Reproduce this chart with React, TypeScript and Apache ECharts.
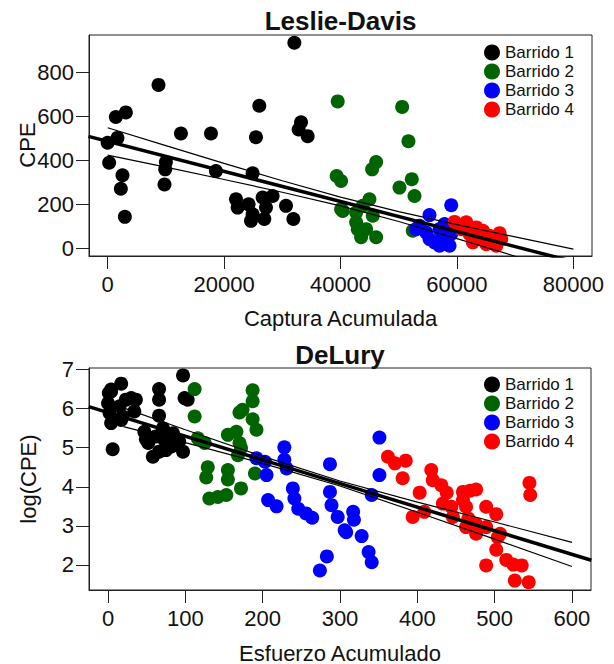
import React, { useEffect, useRef } from "react";
import * as echarts from "echarts";

// ---------- Leslie-Davis data: [Captura Acumulada, CPE] ----------
const ldBarrido1 = [
  [32070, 935], [8740, 743], [1410, 597], [3130, 618], [12590, 522], [17750, 522],
  [26050, 648], [25480, 505], [33220, 573], [32810, 540], [34360, 510], [0, 480],
  [1690, 502], [260, 389], [2550, 332], [2270, 271], [2960, 143], [10010, 392],
  [9890, 359], [9770, 290], [18600, 351], [24900, 341], [22050, 223], [22330, 185],
  [24210, 200], [24620, 125], [24900, 155], [26620, 231], [27200, 185], [26910, 133],
  [28340, 238], [30640, 193], [31900, 133],
];
const ldBarrido2 = [
  [39520, 668], [50590, 643], [51670, 487], [46120, 392], [45430, 359], [39340, 329],
  [40100, 306], [52240, 314], [50130, 276], [52710, 238], [44970, 223], [40380, 170],
  [42680, 163], [43820, 193], [45540, 148], [42960, 87], [43540, 50], [46120, 50],
  [42680, 118], [44400, 87], [52410, 80], [40100, 178],
];
const ldBarrido3 = [
  [59020, 196], [55290, 151], [53570, 102], [54720, 72], [55290, 42], [57010, 87],
  [57580, 50], [58730, 12], [57010, 12], [56150, 27], [59020, 65], [57870, 110], [53000, 87],
];
const ldBarrido4 = [
  [59590, 120], [61600, 118], [63320, 95], [64460, 80], [65610, 57], [67330, 69],
  [67620, 42], [66760, 12], [65040, 19], [63320, 42], [62160, 65], [60740, 87],
  [62730, 27], [63890, 57],
];
const ldFitX = [-3300, 83300];
const ldFitY = [509, -83];
const ldBandX = [0, 10000, 20000, 30000, 40000, 50000, 60000, 70000, 80000];
const ldUpper = [548, 467, 386, 307, 233, 167, 108, 52, -4];
const ldLower = [424, 369, 313, 255, 193, 122, 44, -36, -117];

// ---------- DeLury data: [Esfuerzo Acumulado, log(CPE)] ----------
const dlBarrido1 = [
  [0, 6.14], [1, 6.4], [4, 6.49], [17, 6.64], [4, 6.44], [2, 5.89], [4, 5.63], [6, 4.96],
  [15, 6.06], [17, 5.71], [23, 6.23], [30, 6.27], [36, 6.23], [34, 5.93], [19, 5.8],
  [66, 6.5], [66, 6.23], [66, 5.82], [47, 5.41], [49, 5.22], [52, 5.12], [62, 5.29],
  [58, 4.77], [66, 4.9], [73, 5.2], [75, 4.94], [84, 5.37], [82, 5.03], [92, 5.16],
  [97, 4.9], [97, 6.85], [99, 6.27], [103, 6.23], [71, 5.5],
];
const dlBarrido2 = [
  [112, 6.5], [112, 5.8], [116, 5.24], [125, 5.12], [129, 4.5], [127, 4.24], [131, 3.7],
  [142, 3.74], [153, 3.79], [172, 3.96], [155, 4.43], [155, 4.19], [155, 5.33], [166, 5.41],
  [172, 4.99], [168, 4.81], [170, 5.9], [174, 5.97], [187, 6.47], [187, 6.19], [187, 5.73],
  [192, 5.46], [190, 4.34], [170, 5.12],
];
const dlBarrido3 = [
  [192, 4.73], [203, 4.64], [205, 4.3], [228, 5.01], [228, 4.69], [231, 4.47], [207, 3.66],
  [218, 3.5], [239, 3.96], [241, 3.7], [246, 3.44], [256, 3.32], [264, 3.21], [287, 4.58],
  [287, 3.87], [289, 3.53], [297, 3.23], [306, 2.89], [283, 2.22], [274, 1.86], [351, 5.26],
  [351, 4.3], [341, 3.79], [317, 3.36], [318, 3.16], [308, 2.84], [328, 2.74], [337, 2.33],
  [341, 2.07],
];
const dlBarrido4 = [
  [362, 4.77], [371, 4.6], [385, 4.67], [381, 4.22], [418, 4.43], [420, 4.17], [431, 4.04],
  [438, 3.85], [459, 3.87], [468, 3.9], [476, 3.93], [403, 3.85], [459, 3.66], [463, 3.49],
  [433, 3.57], [444, 3.49], [446, 3.23], [409, 3.36], [394, 3.23], [489, 3.49], [502, 3.3],
  [476, 3.04], [489, 2.97], [507, 2.8], [504, 2.71], [502, 2.39], [489, 1.99], [515, 2.13],
  [524, 2.01], [535, 1.99], [526, 1.6], [544, 1.56], [545, 4.1], [546, 3.79], [466, 3.19],
  [463, 2.97], [476, 2.8],
];
const dlFitX = [-25, 625];
const dlFitY = [6.05, 2.12];
const dlBandX = [20, 100, 200, 300, 400, 500, 600];
const dlUpper = [6.02, 5.46, 4.78, 4.15, 3.61, 3.1, 2.58];
const dlLower = [5.54, 5.13, 4.6, 4.02, 3.35, 2.66, 1.96];

// ---------- tick labels ----------
const ldXTicks = [0, 20000, 40000, 60000, 80000];
const ldYTicks = [0, 200, 400, 600, 800];
const dlXTicks = [0, 100, 200, 300, 400, 500, 600];
const dlYTicks = [2, 3, 4, 5, 6, 7];

const seriesNames = ["Barrido 1", "Barrido 2", "Barrido 3", "Barrido 4"];
const seriesColors = ["#000000", "#006400", "#0000FF", "#FF0000"];

const FONT = '"Liberation Sans", Arial, Helvetica, sans-serif';
const INK = "#111";

const zip = (xs: number[], ys: number[]) => xs.map((x, i) => [x, ys[i]]);

function axis(gridIndex: number, min: number, max: number, ticks: number[], margin: number) {
  return {
    type: "value",
    gridIndex,
    min,
    max,
    axisLine: { show: true, onZero: false, lineStyle: { color: "#222", width: 1 } },
    axisTick: { show: true, inside: false, length: 13, customValues: ticks, lineStyle: { color: "#222", width: 1 } },
    axisLabel: {
      show: true,
      customValues: ticks,
      formatter: (v: number) => String(v),
      fontSize: 22,
      color: INK,
      fontFamily: FONT,
      margin,
    },
    splitLine: { show: false },
  };
}

function scatter(name: string, color: string, data: number[][], gi: number) {
  return {
    type: "scatter",
    name,
    xAxisIndex: gi,
    yAxisIndex: gi,
    data,
    symbol: "circle",
    symbolSize: 14,
    itemStyle: { color, opacity: 1 },
    z: 2,
    silent: true,
  };
}

function line(data: number[][], gi: number, width: number) {
  return {
    type: "line",
    xAxisIndex: gi,
    yAxisIndex: gi,
    data,
    symbol: "none",
    showSymbol: false,
    clip: true,
    lineStyle: { color: "#000", width },
    z: 5,
    silent: true,
  };
}

function legend(top: number) {
  return {
    data: seriesNames,
    orient: "vertical",
    left: 484,
    top,
    padding: 0,
    itemGap: 2,
    itemWidth: 16,
    itemHeight: 16,
    icon: "circle",
    selectedMode: false,
    textStyle: { fontSize: 17, lineHeight: 16, color: INK, fontFamily: FONT },
  };
}

function label(text: string, x: number, y: number, size: number, bold = false, rotation = 0) {
  return {
    type: "text",
    x,
    y,
    rotation,
    silent: true,
    style: {
      text,
      fontSize: size,
      fontWeight: bold ? "bold" : "normal",
      fontFamily: FONT,
      fill: INK,
      align: "center",
      verticalAlign: "middle",
    },
  };
}

export default function App() {
  const ref = useRef<HTMLDivElement>(null);

  useEffect(() => {
    document.body.style.margin = "0";
    if (!ref.current) return;
    const chart = echarts.init(ref.current, undefined, { renderer: "svg" });
    const ldSets = [ldBarrido1, ldBarrido2, ldBarrido3, ldBarrido4];
    const dlSets = [dlBarrido1, dlBarrido2, dlBarrido3, dlBarrido4];

    chart.setOption({
      animation: false,
      backgroundColor: "#ffffff",
      grid: [
        { left: 89, top: 35, width: 503, height: 221, show: true, borderColor: "#222", borderWidth: 1, backgroundColor: "transparent" },
        { left: 89, top: 368, width: 502, height: 222, show: true, borderColor: "#222", borderWidth: 1, backgroundColor: "transparent" },
      ],
      xAxis: [
        axis(0, -3200, 83200, ldXTicks, 17),
        axis(1, -24.6, 624.6, dlXTicks, 17),
      ],
      yAxis: [
        axis(0, -35, 970, ldYTicks, 15),
        axis(1, 1.36, 7.04, dlYTicks, 15),
      ],
      legend: [legend(44), legend(376)],
      series: [
        ...ldSets.map((d, i) => scatter(seriesNames[i], seriesColors[i], d, 0)),
        line(zip(ldFitX, ldFitY), 0, 3.5),
        line(zip(ldBandX, ldUpper), 0, 1.2),
        line(zip(ldBandX, ldLower), 0, 1.2),
        ...dlSets.map((d, i) => scatter(seriesNames[i], seriesColors[i], d, 1)),
        line(zip(dlFitX, dlFitY), 1, 3.5),
        line(zip(dlBandX, dlUpper), 1, 1.2),
        line(zip(dlBandX, dlLower), 1, 1.2),
      ],
      graphic: [
        label("Leslie-Davis", 340.5, 21, 26, true),
        label("DeLury", 340, 355, 26, true),
        label("Captura Acumulada", 340.5, 318, 22),
        label("Esfuerzo Acumulado", 340, 653, 22),
        label("CPE", 27, 145, 22, false, Math.PI / 2),
        label("log(CPE)", 28, 479, 22, false, Math.PI / 2),
      ],
    });

    return () => chart.dispose();
  }, []);

  return (
    <div
      ref={ref}
      style={{ position: "absolute", left: 0, top: 0, width: 614, height: 664, background: "#fff" }}
    />
  );
}
